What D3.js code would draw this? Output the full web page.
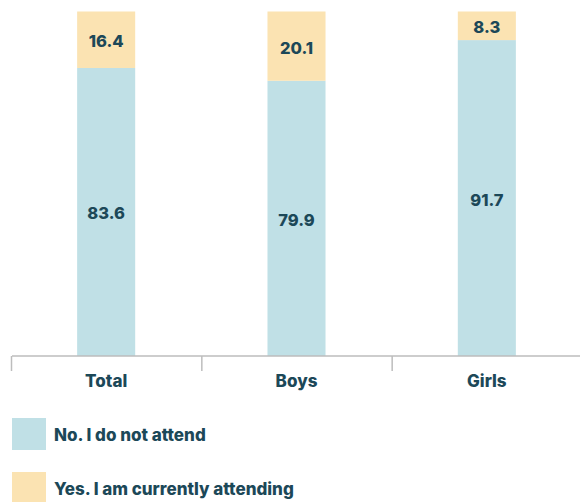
<!DOCTYPE html>
<html>
<head>
<meta charset="utf-8">
<script src="https://cdn.jsdelivr.net/npm/d3@7"></script>
<style>
  html, body { margin: 0; padding: 0; background: #fff; }
  svg { display: block; }
  text { font-family: Inter, Lato, "Open Sans", sans-serif; font-weight: 800; fill: #1c4858; }
</style>
</head>
<body>
<svg id="chart" width="580" height="502"></svg>
<script>
// Share of respondents attending, by group (percent)
const categories = ["Total", "Boys", "Girls"];
const notAttending = [83.6, 79.9, 91.7];
const attending = [16.4, 20.1, 8.3];
const seriesNames = ["No. I do not attend", "Yes. I am currently attending"];
const seriesColors = ["#c0e0e6", "#fbe3b2"];

const svg = d3.select("#chart");

const x = d3.scaleBand()
  .domain(categories)
  .range([11, 582])
  .paddingInner(0.695)
  .paddingOuter(0.3475);

const y = d3.scaleLinear().domain([0, 100]).range([356, 11.5]);

const rows = categories.map((c, i) => ({ cat: c, no: notAttending[i], yes: attending[i] }));
const layers = d3.stack().keys(["no", "yes"])(rows);

const g = svg.append("g");
layers.forEach((layer, li) => {
  g.append("g").attr("fill", seriesColors[li])
    .selectAll("rect").data(layer).join("rect")
    .attr("x", d => x(d.data.cat))
    .attr("width", x.bandwidth())
    .attr("y", d => y(d[1]))
    .attr("height", d => y(d[0]) - y(d[1]));
  g.append("g").selectAll("text").data(layer).join("text")
    .attr("x", d => x(d.data.cat) + x.bandwidth() / 2)
    .attr("y", d => (y(d[0]) + y(d[1])) / 2 + 1.5)
    .attr("text-anchor", "middle")
    .attr("dominant-baseline", "central")
    .attr("font-size", 16.5)
    .text(d => (d[1] - d[0]).toFixed(1));
});

// Category axis with ticks at band boundaries
const axisY = 356;
const axisG = svg.append("g");
axisG.append("line")
  .attr("x1", 12).attr("x2", 582)
  .attr("y1", axisY).attr("y2", axisY)
  .attr("stroke", "#bdbdbd").attr("stroke-width", 1.5);
const boundaries = categories.map(c => x(c) - x.step() * x.paddingInner() / 2 + 0.5);
axisG.selectAll("line.tick").data(boundaries).join("line")
  .attr("class", "tick")
  .attr("x1", d => d).attr("x2", d => d)
  .attr("y1", axisY).attr("y2", axisY + 15)
  .attr("stroke", "#bdbdbd").attr("stroke-width", 1.5);
axisG.selectAll("text").data(categories).join("text")
  .attr("x", d => x(d) + x.bandwidth() / 2)
  .attr("y", 387)
  .attr("text-anchor", "middle")
  .attr("font-size", 17)
  .text(d => d);

// Legend
const legend = svg.append("g");
seriesNames.forEach((name, i) => {
  const ly = 418 + i * 54;
  legend.append("rect")
    .attr("x", 12).attr("y", ly)
    .attr("width", 34).attr("height", 32)
    .attr("fill", seriesColors[i]);
  legend.append("text")
    .attr("x", 54).attr("y", ly + 17)
    .attr("dominant-baseline", "central")
    .attr("font-size", 17)
    .text(name);
});
</script>
</body>
</html>
